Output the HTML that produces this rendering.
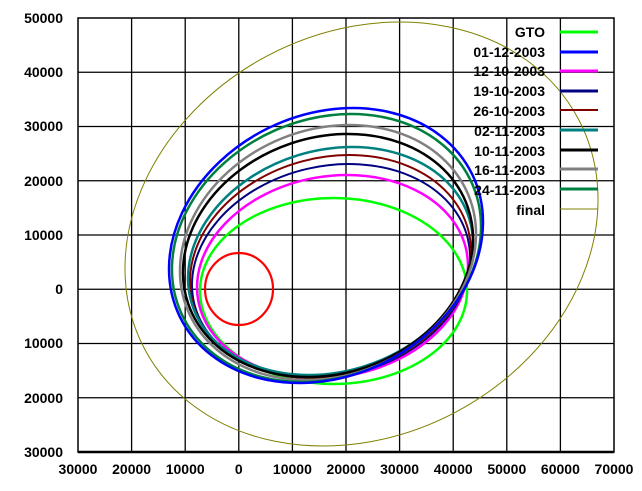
<!DOCTYPE html>
<html><head><style>html,body{margin:0;padding:0;background:#fff;overflow:hidden;width:642px;height:491px}svg{display:block}</style></head><body>
<svg width="642" height="491" xmlns="http://www.w3.org/2000/svg" font-family="Liberation Sans, Arial, sans-serif" font-weight="bold" font-size="14">
<rect width="642" height="491" fill="#fff"/>
<g stroke="#000" stroke-width="1.3">
<line x1="131.6" y1="18" x2="131.6" y2="452"/><line x1="185.2" y1="18" x2="185.2" y2="452"/><line x1="238.8" y1="18" x2="238.8" y2="452"/><line x1="292.4" y1="18" x2="292.4" y2="452"/><line x1="346" y1="18" x2="346" y2="452"/><line x1="399.6" y1="18" x2="399.6" y2="452"/><line x1="453.2" y1="18" x2="453.2" y2="452"/><line x1="506.8" y1="18" x2="506.8" y2="452"/><line x1="560.4" y1="18" x2="560.4" y2="452"/>
<line x1="78" y1="72.25" x2="614" y2="72.25"/><line x1="78" y1="126.5" x2="614" y2="126.5"/><line x1="78" y1="180.75" x2="614" y2="180.75"/><line x1="78" y1="235" x2="614" y2="235"/><line x1="78" y1="289.25" x2="614" y2="289.25"/><line x1="78" y1="343.5" x2="614" y2="343.5"/><line x1="78" y1="397.75" x2="614" y2="397.75"/>
</g>
<rect x="78" y="18" width="536" height="434" fill="none" stroke="#000" stroke-width="1.5"/>
<line x1="78" y1="452" x2="614" y2="452" stroke="#000" stroke-width="2.5"/>
<g fill="none">
<ellipse cx="361.5" cy="234" rx="245.5" ry="201.5" stroke="#808000" stroke-width="1" transform="rotate(-28 361.5 234)"/>
<ellipse cx="239" cy="289" rx="34" ry="36" stroke="#ff0000" stroke-width="2.2"/>
<ellipse cx="333.5" cy="291" rx="133.5" ry="93" stroke="#00ff00" stroke-width="2.5"/>
<ellipse cx="332.5" cy="276.5" rx="136.4" ry="100.2" stroke="#ff00ff" stroke-width="2.5" transform="rotate(-10 332.5 276.5)"/>
<ellipse cx="331" cy="271" rx="140.6" ry="104.9" stroke="#000080" stroke-width="2" transform="rotate(-13 331 271)"/>
<ellipse cx="330.5" cy="266.5" rx="142.5" ry="108.9" stroke="#800000" stroke-width="2" transform="rotate(-15 330.5 266.5)"/>
<ellipse cx="330.5" cy="261" rx="145.1" ry="110.6" stroke="#008080" stroke-width="2.5" transform="rotate(-17 330.5 261)"/>
<ellipse cx="328" cy="255.5" rx="147.9" ry="118" stroke="#000" stroke-width="2.5" transform="rotate(-19 328 255.5)"/>
<ellipse cx="328" cy="252.5" rx="151.7" ry="123.1" stroke="#808080" stroke-width="2.5" transform="rotate(-22 328 252.5)"/>
<ellipse cx="326.5" cy="248" rx="159.2" ry="128.4" stroke="#008040" stroke-width="2.5" transform="rotate(-24 326.5 248)"/>
<ellipse cx="326" cy="245.5" rx="162.6" ry="130.8" stroke="#0000ff" stroke-width="2.5" transform="rotate(-26 326 245.5)"/>
</g>
<g text-anchor="end">
<text x="545" y="37">GTO</text><text x="545" y="57">01-12-2003</text><text x="545" y="76">12-10-2003</text><text x="545" y="96">19-10-2003</text><text x="545" y="116">26-10-2003</text><text x="545" y="136">02-11-2003</text><text x="545" y="156">10-11-2003</text><text x="545" y="175">16-11-2003</text><text x="545" y="195">24-11-2003</text><text x="545" y="215">final</text>
</g>
<g stroke-width="3">
<line x1="560" y1="32" x2="598" y2="32" stroke="#00ff00"/><line x1="560" y1="52" x2="598" y2="52" stroke="#0000ff"/><line x1="560" y1="71" x2="598" y2="71" stroke="#ff00ff"/><line x1="560" y1="91" x2="598" y2="91" stroke="#000080"/><line x1="560" y1="110" x2="598" y2="110" stroke="#800000" stroke-width="2"/><line x1="560" y1="130" x2="598" y2="130" stroke="#008080"/><line x1="560" y1="150" x2="598" y2="150" stroke="#000"/><line x1="560" y1="169" x2="598" y2="169" stroke="#808080"/><line x1="560" y1="189" x2="598" y2="189" stroke="#008040"/><line x1="560" y1="209" x2="598" y2="209" stroke="#808000" stroke-width="1"/>
</g>
<g text-anchor="end">
<text x="63" y="23">50000</text><text x="63" y="77">40000</text><text x="63" y="131">30000</text><text x="63" y="186">20000</text><text x="63" y="240">10000</text><text x="63" y="294">0</text><text x="63" y="348">10000</text><text x="63" y="403">20000</text><text x="63" y="457">30000</text>
</g>
<g text-anchor="middle">
<text x="78" y="474">30000</text><text x="131.6" y="474">20000</text><text x="185.2" y="474">10000</text><text x="238.8" y="474">0</text><text x="292.4" y="474">10000</text><text x="346" y="474">20000</text><text x="399.6" y="474">30000</text><text x="453.2" y="474">40000</text><text x="506.8" y="474">50000</text><text x="560.4" y="474">60000</text><text x="614" y="474">70000</text>
</g>
</svg>
</body></html>
